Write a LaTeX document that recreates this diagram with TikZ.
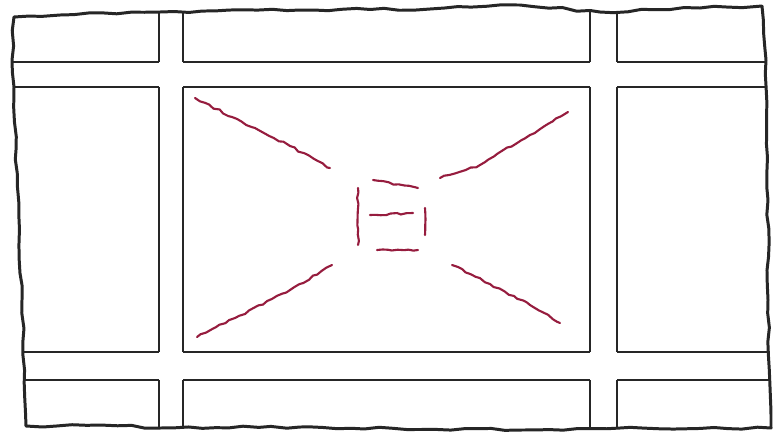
\documentclass[tikz,border=0pt]{standalone}
\usetikzlibrary{decorations.pathmorphing}
\definecolor{inkgray}{RGB}{38,38,38}
\definecolor{inkred}{RGB}{150,28,62}
\tikzset{
  outline/.style={
    draw=inkgray,
    line width=1.7pt,
    line join=round,
    decorate,
    decoration={random steps, segment length=8pt, amplitude=0.7pt}
  },
  bar/.style={draw=inkgray, line width=1.6pt},
  redstroke/.style={
    draw=inkred,
    line width=1.2pt,
    line cap=round,
    decorate,
    decoration={random steps, segment length=3pt, amplitude=0.6pt}
  },
}

\begin{document}
\begin{tikzpicture}[x=0.02cm,y=-0.02cm]
  \pgfmathsetseed{7}
  \fill[white] (0,0) rectangle (774,434);
  \useasboundingbox (0,0) rectangle (774,434);
  % torn sheet edge
  \draw[outline] (14,17) -- (60,15) -- (160,12) -- (300,10) -- (430,9)
    -- (520,5) -- (600,12) -- (700,8) -- (762,6)
    -- (766,60) -- (768,200) -- (768,300) -- (771,428)
    -- (620,428) -- (520,430) -- (300,427) -- (160,428) -- (100,425) -- (26,426)
    -- (22,300) -- (16,150) -- (14,87) -- (12,60) -- cycle;
  % horizontal bands
  \foreach \y/\xa/\xb in {62/13/766, 87/14/766, 352/24/769, 380/25/770} {
    \draw[bar] (\xa,\y) -- (159,\y) (183,\y) -- (590,\y) (617,\y) -- (\xb,\y);
  }
  % vertical bands
  \foreach \x/\ya/\yb in {159/12/428, 183/12/428, 590/10/429, 617/11/429} {
    \draw[bar] (\x,\ya) -- (\x,62) (\x,87) -- (\x,352) (\x,380) -- (\x,\yb);
  }
  % red cross
  \draw[redstroke] (195,98) -- (232,117) -- (290,146) -- (330,168);
  \draw[redstroke] (440,178) -- (480,165) -- (530,135) -- (568,112);
  \draw[redstroke] (197,337) -- (235,318) -- (290,290) -- (332,265);
  \draw[redstroke] (452,265) -- (490,284) -- (530,305) -- (560,323);
  % little square
  \draw[redstroke] (358,188) -- (358,245);
  \draw[redstroke] (373,180) -- (418,188);
  \draw[redstroke] (425,208) -- (425,235);
  \draw[redstroke] (370,215) -- (413,213);
  \draw[redstroke] (377,250) -- (418,250);
\end{tikzpicture}
\end{document}
